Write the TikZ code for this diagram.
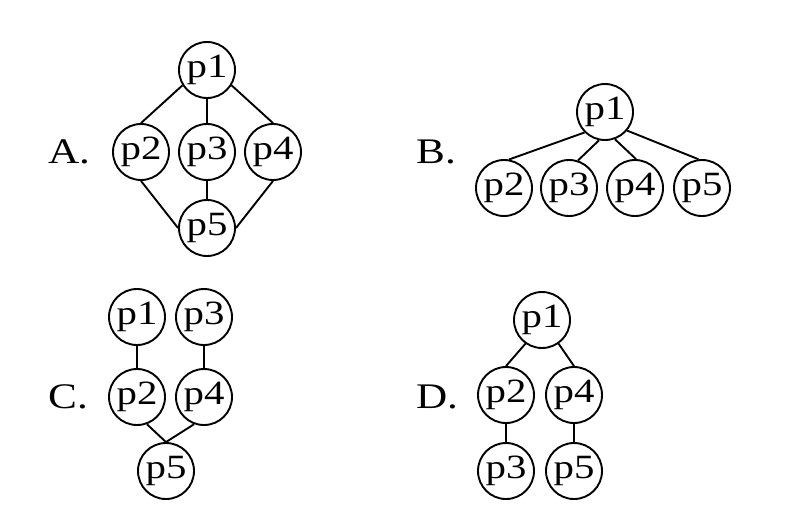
\documentclass[tikz,border=0pt]{standalone}
\usepackage{fontspec}
\setmainfont{Liberation Serif}[FakeStretch=1.2]
\begin{document}
\begin{tikzpicture}[x=1pt,y=-1pt,
  pnode/.style={draw,circle,line width=1.9pt,minimum size=56pt,inner sep=0pt,font=\fontsize{34}{36}\selectfont},
  lbl/.style={font=\fontsize{36}{38}\selectfont},
  edge/.style={line width=1.9pt}]
\useasboundingbox (0,0) rectangle (799,515);
% A
\node[pnode] (a1) at (207,70) {p1};
\node[pnode] (a2) at (141,152) {p2};
\node[pnode] (a3) at (207,152) {p3};
\node[pnode] (a4) at (273,152) {p4};
\node[pnode] (a5) at (207,228) {p5};
\node[lbl] (la) at (69,152) {A.};
\draw[edge] (a1.212) -- (a2.north);
\draw[edge] (a1.south) -- (a3.north);
\draw[edge] (a1.328) -- (a4.north);
\draw[edge] (a2.south) -- (a5.west);
\draw[edge] (a3.south) -- (a5.north);
\draw[edge] (a4.south) -- (a5.east);
% B
\node[pnode] (b1) at (605,112) {p1};
\node[pnode] (b2) at (504,188) {p2};
\node[pnode] (b3) at (569,188) {p3};
\node[pnode] (b4) at (635,188) {p4};
\node[pnode] (b5) at (702,188) {p5};
\node[lbl] (lb) at (436,152) {B.};
\draw[edge] (b1.225) -- (b2.80);
\draw[edge] (b1.258) -- (b3.72);
\draw[edge] (b1.290) -- (b4.88);
\draw[edge] (b1.320) -- (b5.97);
% C
\node[pnode] (c1) at (137,317) {p1};
\node[pnode] (c3) at (204,317) {p3};
\node[pnode] (c2) at (137,397) {p2};
\node[pnode] (c4) at (204,397) {p4};
\node[pnode] (c5) at (166,471) {p5};
\node[lbl] (lc) at (68,397) {C.};
\draw[edge] (c1.south) -- (c2.north);
\draw[edge] (c3.south) -- (c4.north);
\draw[edge] (c2.290) -- (c5.north);
\draw[edge] (c4.250) -- (c5.north);
% D
\node[pnode] (d1) at (542,320) {p1};
\node[pnode] (d2) at (506,395) {p2};
\node[pnode] (d4) at (574,395) {p4};
\node[pnode] (d3) at (506,471) {p3};
\node[pnode] (d5) at (574,471) {p5};
\node[lbl] (ld) at (437,397) {D.};
\draw[edge] (d1.235) -- (d2.north);
\draw[edge] (d1.305) -- (d4.north);
\draw[edge] (d2.south) -- (d3.north);
\draw[edge] (d4.south) -- (d5.north);
\end{tikzpicture}
\end{document}
